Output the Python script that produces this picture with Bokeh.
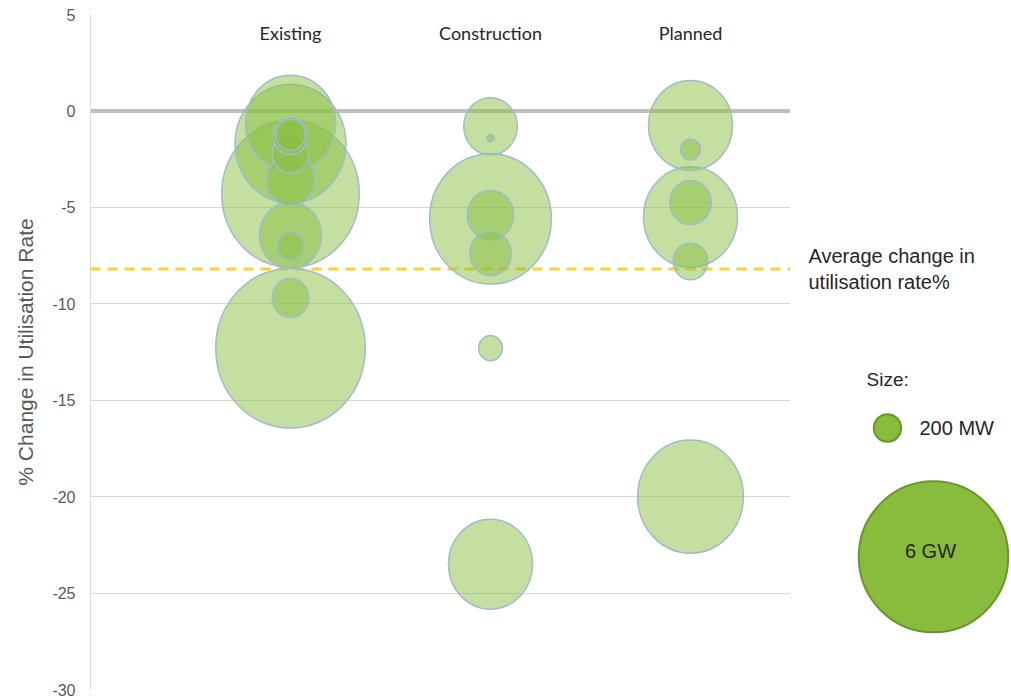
import math
from bokeh.plotting import figure
from bokeh.models import Range1d, FixedTicker, Span, ColumnDataSource
from bokeh.layouts import row
from bokeh.embed import file_html
from bokeh.resources import INLINE
from bokeh.core.properties import value

# ---------------- data ----------------
categories = ["Existing", "Construction", "Planned"]

existing_change = [-12.3, -4.3, -1.7, -0.65, -6.45, -3.6, -9.7, -2.2, -1.3, -1.25, -7.0]
existing_mw = [6000, 5080, 3300, 2180, 1040, 610, 360, 360, 320, 230, 190]

construction_change = [-5.6, -23.5, -0.8, -5.4, -7.4, -12.3, -1.4]
construction_mw = [3980, 1900, 770, 580, 460, 150, 13]

planned_change = [-20.0, -5.5, -0.75, -4.75, -7.8, -2.0]
planned_mw = [3000, 2370, 1900, 460, 320, 105]

average_change = -8.2
legend_mw = [200, 6000]
legend_labels = ["200 MW", "6 GW"]
y_ticks = [5, 0, -5, -10, -15, -20, -25, -30]

# ---------------- styling helpers ----------------
PX_PER_SQRT_MW = 1.93
ASPECT = 1.07
AXIS_GREY = "#595959"
GRID = "#D9D9D9"


def diam(mw):
    return PX_PER_SQRT_MW * math.sqrt(mw)


xs, ys, ws, hs = [], [], [], []
for i, (chg, mw) in enumerate([(existing_change, existing_mw),
                               (construction_change, construction_mw),
                               (planned_change, planned_mw)]):
    for c, m in zip(chg, mw):
        xs.append(i + 1)
        ys.append(c)
        ws.append(diam(m))
        hs.append(diam(m) * ASPECT)
src = ColumnDataSource(dict(x=xs, y=ys, w=ws, h=hs))

# ---------------- main figure ----------------
p = figure(width=790, height=698, x_range=Range1d(0, 3.5), y_range=Range1d(-30, 5),
           output_backend="svg", toolbar_location=None, x_axis_type=None,
           min_border_left=90, min_border_right=0, min_border_top=14, min_border_bottom=9)
p.outline_line_color = None
p.background_fill_color = "white"

ticker = FixedTicker(ticks=y_ticks)
ax = p.yaxis[0]
ax.ticker = ticker
ax.major_tick_line_color = None
ax.minor_tick_line_color = None
ax.major_tick_out = 0
ax.major_tick_in = 0
ax.minor_tick_out = 0
ax.minor_tick_in = 0
ax.major_label_overrides = {t: str(t) for t in y_ticks}
ax.axis_line_color = GRID
ax.major_label_text_font = "Liberation Sans"
ax.major_label_text_font_size = "16px"
ax.major_label_text_color = AXIS_GREY
ax.major_label_standoff = 15
ax.axis_label = "% Change in Utilisation Rate"
ax.axis_label_text_font = "Liberation Sans"
ax.axis_label_text_font_size = "21px"
ax.axis_label_text_font_style = "normal"
ax.axis_label_text_color = AXIS_GREY
ax.axis_label_standoff = 12
p.ygrid.ticker = ticker
p.ygrid.grid_line_color = GRID

p.add_layout(Span(location=0, dimension="width", line_color="#BFBFBF",
                  line_width=4, level="underlay"))
p.add_layout(Span(location=average_change, dimension="width", line_color="#FFD034",
                  line_width=3, line_dash="10 7", level="underlay"))

p.ellipse(x="x", y="y", width="w", height="h", width_units="screen",
          height_units="screen", source=src, fill_color="#89BF41", fill_alpha=0.5,
          line_color="#A0BCCB", line_width=1.5)

p.text(x=[1, 2, 3], y=[4.04] * 3, text=categories, text_font=value("Lato"),
       text_font_size="18px", text_align="center", text_baseline="middle",
       text_color="#262626")

# ---------------- legend figure ----------------
q = figure(width=221, height=698, x_range=Range1d(0, 221), y_range=p.y_range,
           output_backend="svg", toolbar_location=None, x_axis_type=None,
           y_axis_type=None, min_border_left=0, min_border_right=0,
           min_border_top=14, min_border_bottom=9)
q.outline_line_color = None
q.xgrid.visible = False
q.ygrid.visible = False

q.text(x=[18], y=[average_change], text=["Average change in\nutilisation rate%"],
       text_font=value("Liberation Sans"), text_font_size="20px",
       text_align="left", text_baseline="middle", text_color="#262626")

q.text(x=[76], y=[-13.95], text=["Size:"], text_font=value("Liberation Sans"),
       text_font_size="19px", text_align="left", text_baseline="middle",
       text_color="#262626")

leg_x = [97, 143]
leg_y = [-16.44, -23.12]
q.ellipse(x=leg_x, y=leg_y, width=[diam(m) for m in legend_mw],
          height=[diam(m) * 1.01 for m in legend_mw], width_units="screen",
          height_units="screen", fill_color="#89BB3C", line_color="#6A962C",
          line_width=2)

q.text(x=[129], y=[-16.44], text=[legend_labels[0]],
       text_font=value("Liberation Sans"), text_font_size="20px",
       text_align="left", text_baseline="middle", text_color="#262626")
q.text(x=[140], y=[-22.8], text=[legend_labels[1]],
       text_font=value("Liberation Sans"), text_font_size="20px",
       text_align="center", text_baseline="middle", text_color="#262626")

layout = row(p, q, spacing=0)
open("out.html", "w").write(file_html(layout, INLINE))
